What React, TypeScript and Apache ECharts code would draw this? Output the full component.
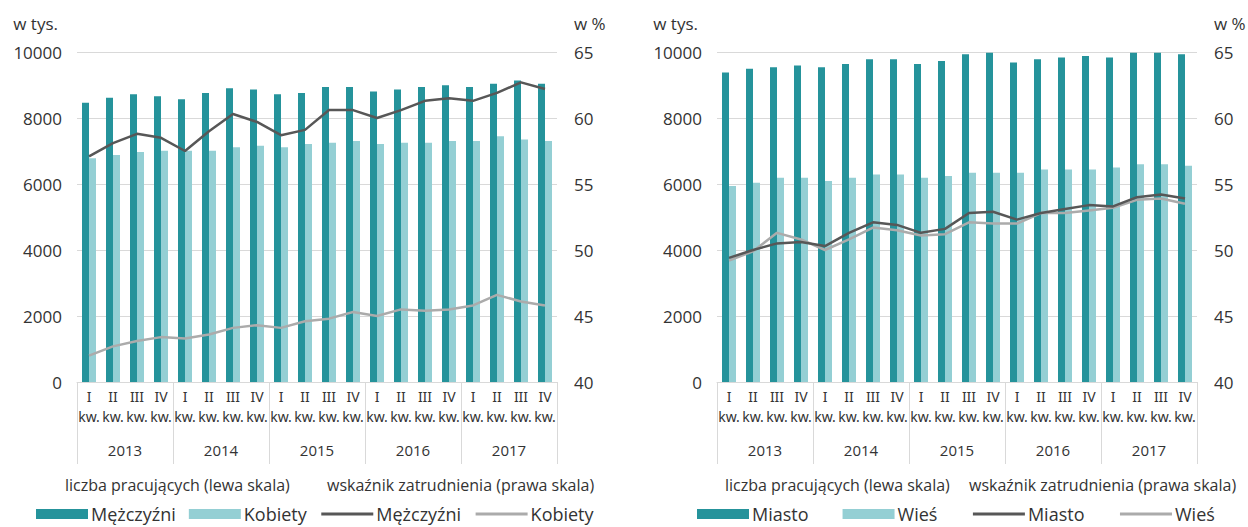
import React, { useEffect, useRef } from "react";
import * as echarts from "echarts";

// ---- data ----
const quarters = ["I", "II", "III", "IV"];
const years = ["2013", "2014", "2015", "2016", "2017"];
const categories = years.flatMap((y) => quarters.map((q) => `${q} kw. ${y}`));

// left panel: liczba pracujących (w tys.)
const menWorkers = [8460, 8610, 8720, 8660, 8570, 8760, 8900, 8860, 8720, 8760, 8940, 8940, 8800, 8860, 8940, 8990, 8940, 9040, 9140, 9040];
const womenWorkers = [6780, 6880, 6970, 7010, 7010, 7010, 7110, 7160, 7110, 7210, 7250, 7300, 7210, 7250, 7250, 7300, 7300, 7450, 7350, 7300];
// wskaźnik zatrudnienia (w %)
const menRate = [57.1, 58.1, 58.8, 58.5, 57.5, 59.0, 60.3, 59.7, 58.7, 59.1, 60.6, 60.6, 60.0, 60.6, 61.3, 61.5, 61.3, 61.9, 62.7, 62.2];
const womenRate = [42.0, 42.7, 43.1, 43.4, 43.3, 43.6, 44.1, 44.3, 44.1, 44.6, 44.8, 45.3, 45.0, 45.5, 45.4, 45.5, 45.8, 46.6, 46.1, 45.8];

// right panel
const cityWorkers = [9380, 9490, 9540, 9590, 9540, 9640, 9780, 9780, 9640, 9730, 9930, 9980, 9680, 9780, 9830, 9880, 9830, 9980, 9980, 9930];
const ruralWorkers = [5940, 6040, 6190, 6190, 6090, 6190, 6290, 6290, 6190, 6240, 6340, 6340, 6340, 6440, 6440, 6440, 6500, 6600, 6600, 6550];
const cityRate = [49.4, 50.0, 50.5, 50.6, 50.3, 51.3, 52.1, 51.9, 51.3, 51.6, 52.8, 52.9, 52.3, 52.8, 53.1, 53.4, 53.3, 54.0, 54.2, 53.9];
const ruralRate = [49.2, 49.9, 51.3, 50.8, 50.0, 50.8, 51.7, 51.5, 51.1, 51.2, 52.1, 52.0, 52.0, 52.8, 52.8, 53.0, 53.2, 53.8, 53.9, 53.5];

const leftTicks = { min: 0, max: 10000, interval: 2000 };
const rightTicks = { min: 40, max: 65, interval: 5 };

// ---- styles ----
const FONT = "Open Sans";
const QFONT = "Noto Sans";
const TEXT = "#333333";
const GRID = "#d9d9d9";
const DARK_TEAL = "#25939b";
const LIGHT_TEAL = "#94cfd4";
const DARK_LINE = "#575757";
const LIGHT_LINE = "#ababab";

const legendLabels: Record<string, string> = {
  "Mężczyźni-bar": "Mężczyźni",
  "Kobiety-bar": "Kobiety",
  "Mężczyźni-line": "Mężczyźni",
  "Kobiety-line": "Kobiety",
  "Miasto-bar": "Miasto",
  "Wieś-bar": "Wieś",
  "Miasto-line": "Miasto",
  "Wieś-line": "Wieś",
};

function buildOption() {
  const grids = [
    { left: 77, top: 52, width: 480, height: 330 },
    { left: 717, top: 52, width: 480, height: 330 },
  ];
  const xAxis: any[] = [];
  const yAxis: any[] = [];
  [0, 1].forEach((g) => {
    xAxis.push({
      gridIndex: g,
      type: "category",
      data: categories,
      position: "bottom",
      axisLine: { show: true, lineStyle: { color: GRID, width: 1 } },
      axisTick: { show: false },
      splitLine: { show: false },
      axisLabel: {
        interval: 0,
        hideOverlap: false,
        formatter: (v: string) => `${v.split(" ")[0]}\nkw.`,
        fontFamily: QFONT,
        fontSize: 14,
        lineHeight: 20,
        margin: 4,
        color: TEXT,
      },
    });
    xAxis.push({
      gridIndex: g,
      type: "category",
      data: years,
      position: "bottom",
      axisLine: { show: false },
      axisTick: { show: true, interval: 0, length: 82, lineStyle: { color: GRID, width: 1 } },
      splitLine: { show: false },
      axisLabel: { interval: 0, fontFamily: FONT, fontSize: 15, margin: 60, color: TEXT },
    });
    yAxis.push({
      gridIndex: g,
      type: "value",
      position: "left",
      ...leftTicks,
      name: "w tys.",
      nameLocation: "end",
      nameGap: 29,
      nameTextStyle: { fontFamily: FONT, fontSize: 17, color: TEXT, align: "right", verticalAlign: "middle", padding: [0, 19, 0, 0] },
      axisLine: { show: false },
      axisTick: { show: false },
      splitLine: { show: true, lineStyle: { color: GRID, width: 1 } },
      axisLabel: { fontFamily: FONT, fontSize: 17, margin: 15, color: TEXT, formatter: (v: number) => String(v) },
    });
    yAxis.push({
      gridIndex: g,
      type: "value",
      position: "right",
      ...rightTicks,
      name: "w %",
      nameLocation: "end",
      nameGap: 29,
      nameTextStyle: { fontFamily: FONT, fontSize: 17, color: TEXT, align: "left", verticalAlign: "middle", padding: [0, 0, 0, 17] },
      axisLine: { show: false },
      axisTick: { show: false },
      splitLine: { show: false },
      axisLabel: { fontFamily: FONT, fontSize: 17, margin: 17, color: TEXT, formatter: (v: number) => String(v) },
    });
  });

  const bar = (name: string, data: number[], color: string, g: number) => ({
    type: "bar",
    name,
    data,
    xAxisIndex: g * 2,
    yAxisIndex: g * 2,
    barWidth: 7,
    barGap: "0%",
    itemStyle: { color },
    z: 2,
  });
  const line = (name: string, data: number[], color: string, g: number) => ({
    type: "line",
    name,
    data,
    xAxisIndex: g * 2,
    yAxisIndex: g * 2 + 1,
    symbol: "none",
    showSymbol: false,
    lineStyle: { color, width: 2.5 },
    itemStyle: { color },
    z: 5,
  });

  const series = [
    bar("Mężczyźni-bar", menWorkers, DARK_TEAL, 0),
    bar("Kobiety-bar", womenWorkers, LIGHT_TEAL, 0),
    line("Kobiety-line", womenRate, LIGHT_LINE, 0),
    line("Mężczyźni-line", menRate, DARK_LINE, 0),
    bar("Miasto-bar", cityWorkers, DARK_TEAL, 1),
    bar("Wieś-bar", ruralWorkers, LIGHT_TEAL, 1),
    line("Wieś-line", ruralRate, LIGHT_LINE, 1),
    line("Miasto-line", cityRate, DARK_LINE, 1),
  ];

  const hiddenSymbol = { color: "rgba(0,0,0,0)", borderWidth: 0, borderColor: "rgba(0,0,0,0)" };
  const legendBase = {
    orient: "horizontal",
    top: 505,
    itemWidth: 52,
    itemHeight: 10,
    padding: 0,
    formatter: (n: string) => legendLabels[n] ?? n,
    textStyle: { fontFamily: FONT, fontSize: 18, color: TEXT, padding: [0, 0, 0, -2] },
    selectedMode: false,
  };

  const legend = [
    {
      ...legendBase,
      left: 36,
      itemGap: 13,
      data: [
        { name: "Mężczyźni-bar", icon: "rect" },
        { name: "Kobiety-bar", icon: "rect" },
        { name: "Mężczyźni-line", itemStyle: hiddenSymbol, lineStyle: { width: 3, color: DARK_LINE } },
        { name: "Kobiety-line", itemStyle: hiddenSymbol, lineStyle: { width: 3, color: LIGHT_LINE } },
      ],
    },
    {
      ...legendBase,
      left: 697,
      itemGap: 34,
      data: [
        { name: "Miasto-bar", icon: "rect" },
        { name: "Wieś-bar", icon: "rect" },
        { name: "Miasto-line", itemStyle: hiddenSymbol, lineStyle: { width: 3, color: DARK_LINE } },
        { name: "Wieś-line", itemStyle: hiddenSymbol, lineStyle: { width: 3, color: LIGHT_LINE } },
      ],
    },
  ];

  const caption = (text: string, left: number) => ({
    text,
    left,
    top: 477,
    padding: 0,
    textStyle: { fontFamily: FONT, fontSize: 16, fontWeight: "normal", color: TEXT },
  });

  return {
    animation: false,
    backgroundColor: "#ffffff",
    textStyle: { fontFamily: FONT },
    title: [
      caption("liczba pracujących (lewa skala)", 65),
      caption("wskaźnik zatrudnienia (prawa skala)", 327),
      caption("liczba pracujących (lewa skala)", 725),
      caption("wskaźnik zatrudnienia (prawa skala)", 969),
    ],
    legend,
    grid: grids,
    xAxis,
    yAxis,
    series,
  };
}

export default function App() {
  const ref = useRef<HTMLDivElement>(null);
  useEffect(() => {
    if (!ref.current) return;
    const chart = echarts.init(ref.current, undefined, { renderer: "svg" });
    chart.setOption(buildOption() as any);
    return () => chart.dispose();
  }, []);
  return (
    <div
      ref={ref}
      style={{ position: "absolute", left: 0, top: 0, width: 1248, height: 527, background: "#fff" }}
    />
  );
}
